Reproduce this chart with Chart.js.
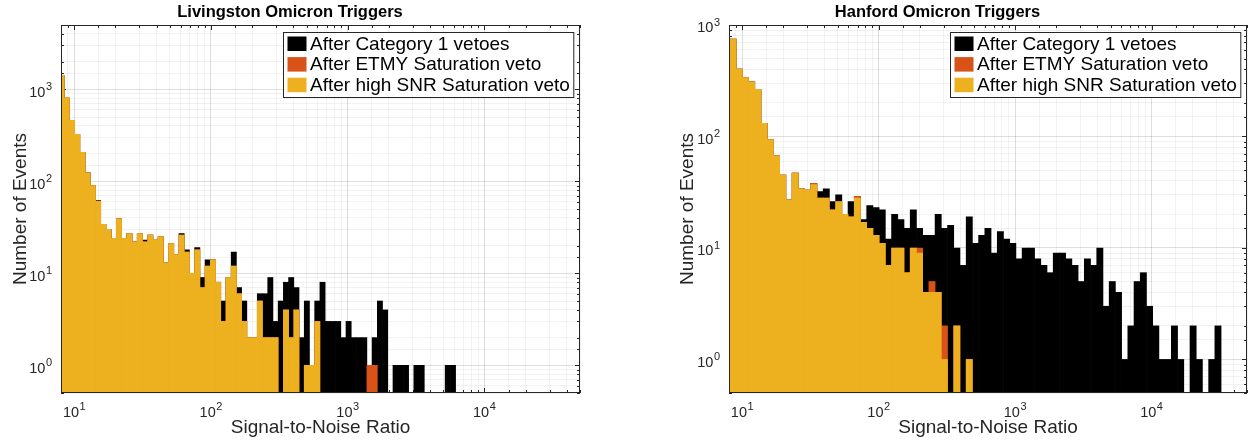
<!DOCTYPE html>
<html>
<head>
<meta charset="utf-8">
<script src="https://cdn.jsdelivr.net/npm/chart.js@4.4.1/dist/chart.umd.min.js"></script>
<style>
  html, body { margin: 0; padding: 0; background: #fff; }
  .panel { position: absolute; top: 0; width: 628px; height: 444px; }
</style>
</head>
<body>
<div class="panel" style="left:0"><canvas id="livingston"></canvas></div>
<div class="panel" style="left:628px"><canvas id="hanford"></canvas></div>
<script>
// series shown in both panels (drawn black first, yellow on top)
const seriesNames = ['After Category 1 vetoes', 'After ETMY Saturation veto', 'After high SNR Saturation veto'];
const seriesColors = ['#000000', '#D95319', '#EDB120'];

// axis tick labels (base^exponent)
const xTickValues = [10, 100, 1000, 10000];
const xTickLabels = ['10^1', '10^2', '10^3', '10^4'];
const yTickValues = [1, 10, 100, 1000];
const yTickLabels = ['10^0', '10^1', '10^2', '10^3'];

// Livingston: 76 log-spaced SNR bins, first edge 7.73, width 0.0382 decades
const livFirstEdge = 7.73;
const livBinWidth = 0.03817;
const livCat1 = [1420, 805, 460, 324, 207, 124, 90, 62, 34, 30,
  24, 39, 24, 27, 22, 27, 23, 26, 23, 25,
  13, 21, 16, 27, 18, 10, 19, 9, 14, 14,
  8, 5, 9, 17, 7, 5, 2, 2, 6, 6,
  9, 3, 5, 8, 9, 7, 2, 5, 1, 5,
  8, 3, 3, 3, 2, 3, 2, 2, 2, 1,
  2, 5, 4, 0, 1, 1, 1, 0, 1, 1,
  0, 0, 0, 0, 1, 1];
const livEtmy = [1420, 805, 460, 324, 207, 124, 90, 61, 34, 30,
  24, 39, 24, 27, 22, 27, 22, 26, 23, 25,
  13, 21, 16, 26, 17, 10, 18, 7, 12, 14,
  8, 3, 9, 12, 6, 3, 2, 2, 5, 2,
  2, 2, 0, 4, 2, 4, 0, 1, 1, 3,
  0, 0, 0, 0, 0, 0, 0, 0, 0, 1,
  1, 0, 0, 0, 0, 0, 0, 0, 0, 0,
  0, 0, 0, 0, 0, 0];
const livHighSnr = [1420, 805, 460, 324, 207, 124, 90, 61, 34, 30,
  24, 39, 24, 27, 22, 27, 22, 26, 23, 25,
  13, 21, 16, 26, 17, 10, 18, 7, 12, 14,
  8, 3, 9, 12, 6, 3, 2, 2, 5, 2,
  2, 2, 0, 4, 2, 4, 0, 1, 1, 3,
  0, 0, 0, 0, 0, 0, 0, 0, 0, 0,
  0, 0, 0, 0, 0, 0, 0, 0, 0, 0,
  0, 0, 0, 0, 0, 0];

// Hanford: 79 log-spaced SNR bins, first edge 8.125, width 0.0456 decades
const hanFirstEdge = 8.125;
const hanBinWidth = 0.04556;
const hanCat1 = [748, 402, 338, 309, 265, 131, 94, 67, 45, 27,
  47, 34, 33, 38, 32, 34, 26, 30, 20, 26,
  29, 18, 24, 23, 22, 12, 20, 18, 15, 22,
  15, 13, 13, 20, 15, 16, 10, 7, 19, 11,
  13, 15, 9, 14, 12, 11, 8, 10, 10, 8,
  7, 6, 9, 9, 8, 7, 5, 8, 7, 10,
  3, 5, 4, 1, 2, 5, 6, 3, 2, 1,
  1, 2, 1, 0, 2, 1, 0, 1, 2];
const hanEtmy = [748, 402, 338, 309, 265, 131, 94, 67, 45, 27,
  47, 34, 33, 38, 28, 28, 22, 26, 20, 19,
  29, 17, 15, 13, 11, 7, 10, 10, 6, 10,
  10, 4, 5, 4, 2, 0, 2, 0, 1, 0,
  0, 0, 0, 0, 0, 0, 0, 0, 0, 0,
  0, 0, 0, 0, 0, 0, 0, 0, 0, 0,
  0, 0, 0, 0, 0, 0, 0, 0, 0, 0,
  0, 0, 0, 0, 0, 0, 0, 0, 0];
const hanHighSnr = [748, 402, 338, 309, 265, 131, 94, 67, 45, 27,
  47, 34, 33, 37, 28, 28, 22, 26, 20, 19,
  28, 17, 15, 13, 11, 7, 10, 10, 6, 10,
  9, 4, 4, 4, 1, 0, 2, 0, 1, 0,
  0, 0, 0, 0, 0, 0, 0, 0, 0, 0,
  0, 0, 0, 0, 0, 0, 0, 0, 0, 0,
  0, 0, 0, 0, 0, 0, 0, 0, 0, 0,
  0, 0, 0, 0, 0, 0, 0, 0, 0];

const FONT = '"Liberation Sans", Arial, Helvetica, sans-serif';
const AXIS_COLOR = '#262626';

function binCentres(firstEdge, width, count) {
  const out = [];
  for (let j = 0; j < count; j++) out.push(firstEdge * Math.pow(10, width * (j + 0.5)));
  return out;
}

function isDecade(v) {
  const e = Math.log10(v);
  return Math.abs(e - Math.round(e)) < 1e-6;
}

// box + inward tick marks like matlab axes
const axesFrame = {
  id: 'axesFrame',
  beforeDatasetsDraw(chart) {
    const {ctx, chartArea: a, scales: {x, y}} = chart;
    ctx.save();
    ctx.strokeStyle = AXIS_COLOR;
    ctx.lineWidth = 1;
    ctx.beginPath();
    x.ticks.forEach(t => {
      const p = Math.round(x.getPixelForValue(t.value)) + 0.5;
      const len = isDecade(t.value) ? 5 : 3;
      ctx.moveTo(p, a.bottom); ctx.lineTo(p, a.bottom - len);
      ctx.moveTo(p, a.top); ctx.lineTo(p, a.top + len);
    });
    y.ticks.forEach(t => {
      const p = Math.round(y.getPixelForValue(t.value)) + 0.5;
      const len = isDecade(t.value) ? 5 : 3;
      ctx.moveTo(a.left, p); ctx.lineTo(a.left + len, p);
      ctx.moveTo(a.right, p); ctx.lineTo(a.right - len, p);
    });
    ctx.stroke();
    ctx.restore();
  },
  afterDatasetsDraw(chart) {
    const {ctx, chartArea: a} = chart;
    ctx.save();
    ctx.strokeStyle = AXIS_COLOR;
    ctx.lineWidth = 1;
    ctx.strokeRect(Math.round(a.left) + 0.5, Math.round(a.top) + 0.5,
      Math.round(a.width) - 1, Math.round(a.height) - 1);
    ctx.restore();
  }
};

// decade labels with a raised exponent, placed at the scale's pixel for each value
const powerLabels = {
  id: 'powerLabels',
  afterDraw(chart) {
    const {ctx, chartArea: a, scales: {x, y}} = chart;
    ctx.save();
    ctx.fillStyle = AXIS_COLOR;
    ctx.textBaseline = 'alphabetic';
    ctx.textAlign = 'left';
    const draw = (label, px, py, align) => {
      const [base, exp] = label.split('^');
      ctx.font = '14.5px ' + FONT;
      const bw = ctx.measureText(base).width;
      ctx.font = '11px ' + FONT;
      const ew = ctx.measureText(exp).width;
      const total = bw + 0.5 + ew;
      const left = align === 'center' ? px - total / 2 : px - total;
      ctx.font = '14.5px ' + FONT;
      ctx.fillText(base, left, py);
      ctx.font = '11px ' + FONT;
      ctx.fillText(exp, left + bw + 0.5, py - 6.5);
    };
    xTickValues.forEach((v, i) => draw(xTickLabels[i], x.getPixelForValue(v), a.bottom + 23.7, 'center'));
    yTickValues.forEach((v, i) => draw(yTickLabels[i], a.left - 9, y.getPixelForValue(v) + 7.4, 'right'));
    ctx.restore();
  }
};

// legend in a framed box at the top right of the plot
const boxedLegend = {
  id: 'boxedLegend',
  afterDraw(chart) {
    const {ctx, chartArea: a} = chart;
    ctx.save();
    ctx.font = '19px ' + FONT;
    const textW = Math.max(...seriesNames.map(n => ctx.measureText(n).width));
    const w = 4 + 19 + 3.5 + textW + 4;
    const h = 65;
    const left = Math.round(a.right - 7 - w) + 0.5;
    const top = Math.round(a.top + 7) + 0.5;
    ctx.fillStyle = '#fff';
    ctx.fillRect(left, top, w, h);
    ctx.strokeStyle = AXIS_COLOR;
    ctx.lineWidth = 1;
    ctx.strokeRect(left, top, w, h);
    ctx.textBaseline = 'middle';
    seriesNames.forEach((name, i) => {
      const rowTop = top + 4 + i * 20.6;
      ctx.fillStyle = seriesColors[i];
      ctx.fillRect(left + 4, rowTop, 19, 14.5);
      ctx.fillStyle = '#000';
      ctx.fillText(name, left + 4 + 19 + 3.5, rowTop + 7.8);
    });
    ctx.restore();
  }
};

function histChart(id, o) {
  const centres = binCentres(o.firstEdge, o.binWidth, o.counts[0].length);
  const datasets = o.counts.map((arr, i) => ({
    label: seriesNames[i],
    data: arr.map((c, j) => ({x: centres[j], y: c > 0 ? c : null})),
    backgroundColor: seriesColors[i],
    borderWidth: 0,
    categoryPercentage: 1,
    barPercentage: 1,
    grouped: false,
    order: 3 - i
  }));
  const gridColor = c => (c.tick && isDecade(c.tick.value)) ? 'rgba(0,0,0,0.13)' : 'rgba(0,0,0,0.05)';
  return new Chart(document.getElementById(id), {
    type: 'bar',
    data: {datasets},
    options: {
      responsive: true,
      maintainAspectRatio: false,
      animation: false,
      layout: {padding: o.padding},
      plugins: {
        legend: {display: false},
        tooltip: {enabled: false},
        title: {
          display: true,
          text: o.title,
          color: '#000',
          font: {family: FONT, size: 16.5, weight: 'bold'},
          padding: {top: 2.5, bottom: 2.7}
        }
      },
      scales: {
        x: {
          type: 'logarithmic',
          min: 8,
          max: 50000,
          offset: false,
          afterFit: s => { s.height = 51; },
          grid: {offset: false, drawTicks: false, color: gridColor},
          border: {display: false},
          ticks: {display: false, autoSkip: false},
          title: {
            display: true, text: 'Signal-to-Noise Ratio', color: AXIS_COLOR,
            font: {family: FONT, size: 19}, padding: {top: 0, bottom: 5}
          }
        },
        y: {
          type: 'logarithmic',
          min: 0.5,
          max: o.yMax,
          afterFit: s => { s.width = o.yWidth; },
          grid: {drawTicks: false, color: gridColor},
          border: {display: false},
          ticks: {display: false, autoSkip: false},
          title: {
            display: true, text: 'Number of Events', color: AXIS_COLOR,
            font: {family: FONT, size: 19}, padding: {top: o.yTitlePad, bottom: 0}
          }
        }
      }
    },
    plugins: [axesFrame, powerLabels, boxedLegend]
  });
}

histChart('livingston', {
  title: 'Livingston Omicron Triggers',
  firstEdge: livFirstEdge, binWidth: livBinWidth,
  counts: [livCat1, livEtmy, livHighSnr],
  yMax: 5000, yWidth: 61, yTitlePad: 9,
  padding: {left: 0, right: 48, top: 0, bottom: 0}
});

histChart('hanford', {
  title: 'Hanford Omicron Triggers',
  firstEdge: hanFirstEdge, binWidth: hanBinWidth,
  counts: [hanCat1, hanEtmy, hanHighSnr],
  yMax: 1000, yWidth: 101, yTitlePad: 48,
  padding: {left: 0, right: 9, top: 0, bottom: 0}
});
</script>
</body>
</html>
